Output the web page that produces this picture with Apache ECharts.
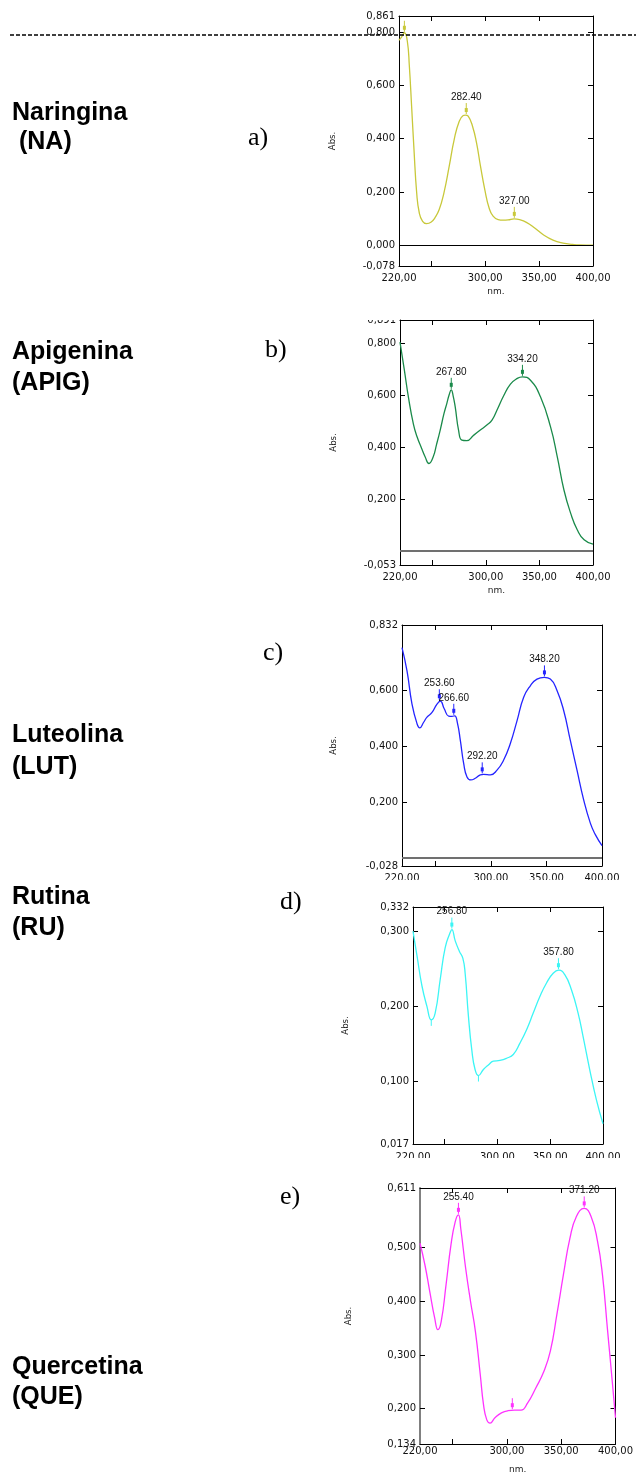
<!DOCTYPE html>
<html><head><meta charset="utf-8">
<script src="https://cdn.jsdelivr.net/npm/echarts@6/dist/echarts.min.js"></script>
<style>html,body{margin:0;padding:0;background:#fff}#c{width:636px;height:1475px}</style>
</head><body><div id="c"></div>
<script>
// ---------- DATA ----------
const xLabelValues = [220, 300, 350, 400];
const xTickValues = [250, 300, 350];

// a) Naringina
const naWl  = [220,222.5,225,227.7,229.6,231.7,233.9,236.4,238.8,241.9,245.6,249.6,253.3,257.3,261.7,266.6,271.2,275.9,279.6,281.7,284.2,288.2,291.9,295.6,299.6,303.6,307.3,312,316.6,321.2,326.8,332,338.2,345.9,353.6,362.9,372.2,381.4,387.6,400];
const naAbs = [0.770,0.783,0.798,0.767,0.673,0.522,0.360,0.197,0.122,0.090,0.081,0.086,0.103,0.134,0.197,0.297,0.397,0.466,0.487,0.489,0.485,0.447,0.385,0.297,0.209,0.140,0.109,0.096,0.094,0.095,0.099,0.096,0.086,0.065,0.040,0.019,0.008,0.003,0.001,0.000];
const naPeakWl = [225, 282.4, 327];
const naPeakAbs = [0.798, 0.489, 0.099];
const naPeakLabel = ['', '282.40', '327.00'];
const naYLabels = [-0.078, 0, 0.2, 0.4, 0.6, 0.8, 0.861];
const naYTicks = [0, 0.2, 0.4, 0.6, 0.8];

// b) Apigenina
const apWl  = [220,224,228,232.5,236,240,243.4,247,251,254,257.5,261,263.7,266,267.8,269.5,271.5,274.6,277.7,282.4,288.7,294.9,301,305.8,310.5,316.8,323,329,334.2,341.7,351,360.4,366.7,372.9,379.2,385.4,391.7,400];
const apAbs = [0.806,0.700,0.590,0.490,0.440,0.398,0.364,0.338,0.364,0.410,0.467,0.530,0.570,0.605,0.622,0.600,0.556,0.467,0.428,0.426,0.447,0.467,0.486,0.505,0.544,0.600,0.644,0.665,0.672,0.659,0.595,0.479,0.364,0.236,0.146,0.082,0.044,0.027];
const apPeakWl = [267.8, 334.2];
const apPeakAbs = [0.622, 0.672];
const apPeakLabel = ['267.80', '334.20'];
const apYLabels = [-0.053, 0.2, 0.4, 0.6, 0.8, 0.891];
const apYTicks = [0.2, 0.4, 0.6, 0.8];

// c) Luteolina
const luWl  = [220,224.5,229,233.5,236,239.5,242.5,247,251.5,254.5,258,262,265,267.4,270,272.5,275.5,278.5,282,286,290.5,293.5,299.5,305.5,311.5,317.5,323.5,329.5,335.5,341.5,348,353.5,359.5,365.5,371.5,377.5,383.5,389.5,394,400];
const luAbs = [0.751,0.668,0.550,0.480,0.465,0.485,0.503,0.520,0.550,0.560,0.533,0.507,0.506,0.508,0.480,0.420,0.338,0.290,0.279,0.285,0.297,0.299,0.297,0.314,0.350,0.409,0.490,0.574,0.615,0.639,0.645,0.639,0.598,0.527,0.420,0.314,0.208,0.125,0.084,0.045];
const luPeakWl = [253.6, 266.6, 292.2, 348.2];
const luPeakAbs = [0.560, 0.508, 0.299, 0.645];
const luPeakLabel = ['253.60', '266.60', '292.20', '348.20'];
const luYLabels = [-0.028, 0.2, 0.4, 0.6, 0.832];
const luYTicks = [0.2, 0.4, 0.6];

// d) Rutina
const ruWl  = [220,223.8,228.5,233.2,237.3,241,245.8,250.5,255.2,256.8,260,264,267.2,269.4,272.5,275.7,278.8,282,286.7,291.4,296.1,302.4,308.7,315,321.3,327.6,333.9,340.2,346.5,352.8,358.1,363.8,370.1,376.4,381.1,387.4,393.7,400];
const ruAbs = [0.300,0.267,0.227,0.200,0.182,0.191,0.236,0.278,0.298,0.302,0.287,0.273,0.264,0.244,0.187,0.142,0.116,0.108,0.116,0.122,0.127,0.128,0.131,0.136,0.151,0.169,0.191,0.213,0.231,0.244,0.248,0.242,0.222,0.191,0.160,0.116,0.076,0.044];
const ruPeakWl = [256.8, 357.8];
const ruPeakAbs = [0.302, 0.248];
const ruPeakLabel = ['256.80', '357.80'];
const ruValleyWl = [237.3, 282];
const ruValleyAbs = [0.182, 0.108];
const ruYLabels = [0.017, 0.1, 0.2, 0.3, 0.332];
const ruYTicks = [0.1, 0.2, 0.3];

// e) Quercetina
const quWl  = [220,224.5,229,233.5,236.5,239.5,244,248.5,252.4,255.4,257.5,262,266.5,271,275.5,278.5,281.5,284.5,289,295,301,307,313,319,326.5,334,340,346,352,358,364,371.2,377.5,383.5,388,392.5,397,400];
const quAbs = [0.508,0.468,0.418,0.369,0.347,0.362,0.431,0.505,0.548,0.561,0.536,0.462,0.400,0.344,0.263,0.207,0.179,0.173,0.183,0.192,0.196,0.197,0.197,0.210,0.238,0.269,0.307,0.375,0.449,0.517,0.558,0.573,0.558,0.511,0.449,0.350,0.251,0.183];
const quPeakWl = [255.4, 305, 371.2];
const quPeakAbs = [0.561, 0.197, 0.573];
const quPeakLabel = ['255.40', '', '371.20'];
const quYLabels = [0.134, 0.2, 0.3, 0.4, 0.5, 0.611];
const quYTicks = [0.2, 0.3, 0.4, 0.5];

// ---------- LAYOUT / STYLE ----------
const panels = [
  {wl:naWl, ab:naAbs, pw:naPeakWl, pa:naPeakAbs, pl:naPeakLabel, yl:naYLabels, yt:naYTicks,
   min:-0.078, max:0.861, color:'#c8c83a', grid:{left:399, top:16, width:194, height:250},
   zero:{color:'#000', width:1}, nm:true, xMargin:7, nameGapY:62, leftColor:'#000', leftWidth:1},
  {wl:apWl, ab:apAbs, pw:apPeakWl, pa:apPeakAbs, pl:apPeakLabel, yl:apYLabels, yt:apYTicks,
   min:-0.053, max:0.891, color:'#1a8a4a', grid:{left:400, top:320, width:193, height:245},
   zero:{color:'#707070', width:2}, nm:true, xMargin:7, nameGapY:62, leftColor:'#000', leftWidth:1},
  {wl:luWl, ab:luAbs, pw:luPeakWl, pa:luPeakAbs, pl:luPeakLabel, yl:luYLabels, yt:luYTicks,
   min:-0.028, max:0.832, color:'#2424ff', grid:{left:402, top:625, width:200, height:241},
   zero:{color:'#707070', width:2}, nm:false, xMargin:7, nameGapY:64, leftColor:'#000', leftWidth:1},
  {wl:ruWl, ab:ruAbs, pw:ruPeakWl, pa:ruPeakAbs, pl:ruPeakLabel, yl:ruYLabels, yt:ruYTicks,
   vw:ruValleyWl, va:ruValleyAbs,
   min:0.017, max:0.332, color:'#3cf5f5', grid:{left:413, top:907, width:190, height:237},
   zero:null, nm:false, xMargin:8, nameGapY:63, leftColor:'#000', leftWidth:1},
  {wl:quWl, ab:quAbs, pw:quPeakWl, pa:quPeakAbs, pl:quPeakLabel, yl:quYLabels, yt:quYTicks,
   min:0.134, max:0.611, color:'#ff33ff', grid:{left:420, top:1188, width:200, height:256},
   zero:null, nm:true, xMargin:2, nameGapY:67, leftColor:'#808080', leftWidth:2}
];

const tickFont = 'DejaVu Sans';
const fmtY = v => v.toFixed(3).replace('.', ',');
const fmtX = v => v.toFixed(2).replace('.', ',');

const grids = [], xAxes = [], yAxes = [], series = [];

panels.forEach((p, i) => {
  grids.push(Object.assign({show:false}, p.grid));
  xAxes.push({type:'value', gridIndex:i, position:'bottom', min:220, max:400,
    name: p.nm ? 'nm.' : '', nameLocation:'middle', nameGap:21,
    nameTextStyle:{fontFamily:tickFont, fontSize:9, color:'#222'},
    axisLine:{show:true, onZero:false, lineStyle:{color:'#000', width:1}},
    axisTick:{show:true, inside:true, length:5, customValues:xTickValues, lineStyle:{color:'#000'}},
    axisLabel:{show:true, customValues:xLabelValues, formatter:fmtX, margin:p.xMargin,
      fontFamily:tickFont, fontSize:10, color:'#111'},
    splitLine:{show:false}});
  xAxes.push({type:'value', gridIndex:i, position:'top', min:220, max:400,
    axisLine:{show:true, onZero:false, lineStyle:{color:'#000', width:1}},
    axisTick:{show:true, inside:true, length:5, customValues:xTickValues, lineStyle:{color:'#000'}},
    axisLabel:{show:false}, splitLine:{show:false}});
  yAxes.push({type:'value', gridIndex:i, position:'left', min:p.min, max:p.max,
    name:'Abs.', nameLocation:'middle', nameGap:p.nameGapY, nameRotate:90,
    nameTextStyle:{fontFamily:tickFont, fontSize:8.5, color:'#222'},
    axisLine:{show:true, onZero:false, lineStyle:{color:p.leftColor, width:p.leftWidth}},
    axisTick:{show:true, inside:true, length:5, customValues:p.yt, lineStyle:{color:'#000'}},
    axisLabel:{show:true, customValues:p.yl, formatter:fmtY, margin:4,
      fontFamily:tickFont, fontSize:10, color:'#111'},
    splitLine:{show:false}});
  yAxes.push({type:'value', gridIndex:i, position:'right', min:p.min, max:p.max,
    axisLine:{show:true, onZero:false, lineStyle:{color:'#000', width:1}},
    axisTick:{show:true, inside:true, length:5, customValues:p.yt, lineStyle:{color:'#000'}},
    axisLabel:{show:false}, splitLine:{show:false}});

  const xi = i * 2, yi = i * 2;
  const line = {type:'line', xAxisIndex:xi, yAxisIndex:yi, showSymbol:false, symbol:'none',
    smooth:0.5, silent:true, animation:false, z:3,
    lineStyle:{color:p.color, width:1.3},
    data: p.wl.map((w, k) => [w, p.ab[k]])};
  if (p.zero) {
    line.markLine = {silent:true, symbol:'none', animation:false, label:{show:false},
      lineStyle:{color:p.zero.color, width:p.zero.width, type:'solid'}, data:[{yAxis:0}]};
  }
  series.push(line);

  const color = p.color, labels = p.pl;
  series.push({type:'custom', xAxisIndex:xi, yAxisIndex:yi, clip:false, silent:true, animation:false, z:5,
    data: p.pw.map((w, k) => [w, p.pa[k]]),
    renderItem: (params, api) => {
      const pt = api.coord([api.value(0), api.value(1)]);
      const lbl = labels[params.dataIndex];
      const ch = [
        {type:'line', shape:{x1:pt[0], y1:pt[1]-1, x2:pt[0], y2:pt[1]-12}, style:{stroke:color, lineWidth:1}},
        {type:'rect', shape:{x:pt[0]-1.5, y:pt[1]-7, width:3, height:4}, style:{fill:color}}
      ];
      if (lbl) ch.push({type:'text', x:pt[0], y:pt[1]-18,
        style:{text:lbl, fill:'#111', font:'10px "Liberation Sans", Arial, sans-serif', align:'center', verticalAlign:'middle'}});
      return {type:'group', children:ch};
    }});
  if (p.vw) {
    series.push({type:'custom', xAxisIndex:xi, yAxisIndex:yi, clip:false, silent:true, animation:false, z:5,
      data: p.vw.map((w, k) => [w, p.va[k]]),
      renderItem: (params, api) => {
        const pt = api.coord([api.value(0), api.value(1)]);
        return {type:'line', shape:{x1:pt[0], y1:pt[1], x2:pt[0], y2:pt[1]+6}, style:{stroke:color, lineWidth:1}};
      }});
  }
});

const boldFont = 'bold 25px "Liberation Sans", Arial, sans-serif';
const serifFont = '26px "Liberation Serif", "Times New Roman", serif';
function txt(t, x, y, font) {
  return {type:'text', x:x, y:y, z:100, style:{text:t, font:font, fill:'#000', verticalAlign:'middle', align:'left'}};
}
function cover(x, y, w, h) {
  return {type:'rect', z:90, shape:{x:x, y:y, width:w, height:h}, style:{fill:'#fff'}};
}

const graphics = [
  {type:'line', z:100, shape:{x1:10, y1:35, x2:636, y2:35}, style:{stroke:'#000', lineWidth:1.5, lineDash:[4,2]}},
  txt('Naringina', 12, 113, boldFont), txt(' (NA)', 12, 142, boldFont), txt('a)', 248, 138, serifFont),
  txt('Apigenina', 12, 352, boldFont), txt('(APIG)', 12, 383, boldFont), txt('b)', 265, 350, serifFont),
  txt('c)', 263, 653, serifFont), txt('Luteolina', 12, 735, boldFont), txt('(LUT)', 12, 767, boldFont),
  txt('Rutina', 12, 897, boldFont), txt('(RU)', 12, 928, boldFont), txt('d)', 280, 902, serifFont),
  txt('e)', 280, 1197, serifFont), txt('Quercetina', 12, 1367, boldFont), txt('(QUE)', 12, 1397, boldFont),
  cover(355, 305, 44, 15),
  cover(370, 880, 266, 20),
  cover(370, 1158, 266, 20)
];

const chart = echarts.init(document.getElementById('c'), null, {renderer:'canvas'});
chart.setOption({
  animation:false,
  backgroundColor:'#fff',
  grid:grids, xAxis:xAxes, yAxis:yAxes, series:series,
  graphic:{elements:graphics}
});
</script>
</body></html>
